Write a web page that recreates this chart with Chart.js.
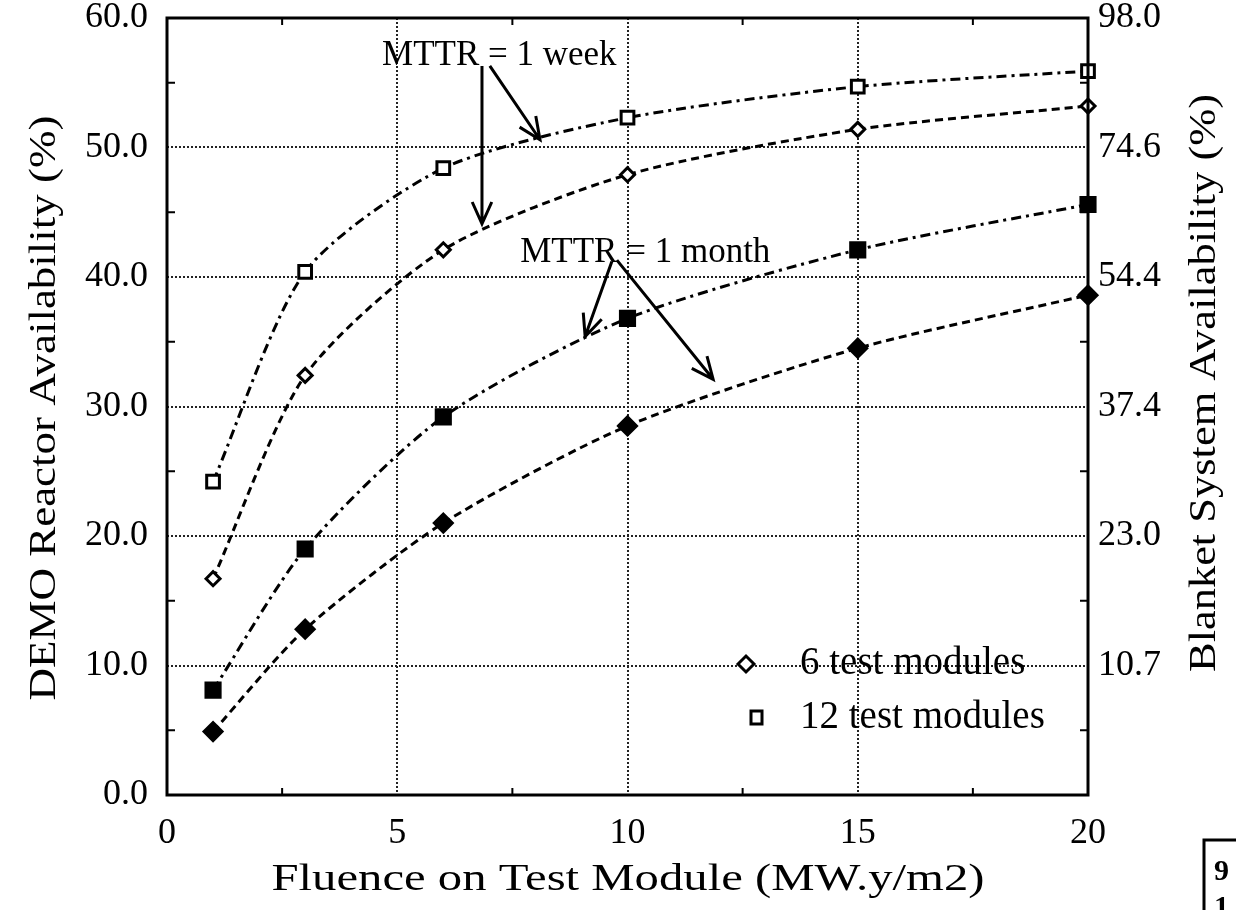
<!DOCTYPE html>
<html>
<head>
<meta charset="utf-8">
<script src="https://cdn.jsdelivr.net/npm/chart.js@4.4.1/dist/chart.umd.min.js"></script>
<style>
  html, body { margin: 0; padding: 0; background: #fff; }
  #wrap { width: 1236px; height: 910px; }
</style>
</head>
<body>
<div id="wrap"><canvas id="chart" width="1236" height="910"></canvas></div>
<script>
// fluence points (MW.y/m2)
const fluence = [1, 3, 6, 10, 15, 20];

// DEMO reactor availability (%)
const week12 = [24.2, 40.4, 48.4, 52.3, 54.7, 55.9];
const week6 = [16.7, 32.4, 42.1, 47.9, 51.4, 53.2];
const month12 = [8.1, 19.0, 29.2, 36.8, 42.1, 45.6];
const month6 = [4.9, 12.8, 21.0, 28.5, 34.5, 38.6];

// right axis labels sit on the left axis gridlines 0..60
const rightTickLabels = ['', '10.7', '23.0', '37.4', '54.4', '74.6', '98.0'];

const xTitle = 'Fluence on Test Module (MW.y/m2)';
const yTitle = 'DEMO Reactor Availability (%)';
const y2Title = 'Blanket System Availability (%)';
const legendLabels = ['6 test modules', '12 test modules'];

// annotations in data units: text anchor + arrows [x1, y1, x2, y2]
const notes = [
    { text: 'MTTR = 1 week', x: 4.67, y: 57.1,
      arrows: [[6.84, 56.3, 6.84, 44.1], [7.01, 56.3, 8.1, 50.6]] },
    { text: 'MTTR = 1 month', x: 7.67, y: 41.9,
      arrows: [[9.66, 41.2, 9.08, 35.4], [9.77, 41.3, 11.86, 32.1]] }
];

const FONT = '"Liberation Serif", "Times New Roman", serif';

function pts(ys) {
    return fluence.map((x, i) => ({ x: x, y: ys[i] }));
}

function series(label, ys, style, filled, dash, radius) {
    return {
        label: label,
        data: pts(ys),
        borderColor: '#000',
        borderWidth: 3,
        borderDash: dash,
        tension: 0.25,
        pointStyle: style,
        pointRadius: radius,
        pointHoverRadius: radius,
        pointBorderWidth: 3,
        pointBorderColor: '#000',
        pointBackgroundColor: filled ? '#000' : '#fff',
        clip: false
    };
}

const DASH = [8, 5];
const DASHDOT = [10, 5, 3, 5];

function arrow(ctx, x1, y1, x2, y2) {
    const a = Math.atan2(y2 - y1, x2 - x1);
    const h = 24, s = 0.42;
    ctx.beginPath();
    ctx.moveTo(x1, y1);
    ctx.lineTo(x2, y2);
    ctx.moveTo(x2 - h * Math.cos(a - s), y2 - h * Math.sin(a - s));
    ctx.lineTo(x2, y2);
    ctx.lineTo(x2 - h * Math.cos(a + s), y2 - h * Math.sin(a + s));
    ctx.stroke();
}

function stretchText(ctx, text, cx, cy, len, rot, size) {
    ctx.save();
    ctx.translate(cx, cy);
    ctx.rotate(rot);
    ctx.font = size + 'px ' + FONT;
    const w = ctx.measureText(text).width;
    ctx.scale(len / w, 1);
    ctx.textAlign = 'center';
    ctx.textBaseline = 'middle';
    ctx.fillStyle = '#000';
    ctx.fillText(text, 0, 0);
    ctx.restore();
}

const decor = {
    id: 'decor',
    afterDatasetsDraw(chart) {
        const ctx = chart.ctx;
        const a = chart.chartArea;
        const xs = chart.scales.x, ys = chart.scales.y;
        ctx.save();
        ctx.strokeStyle = '#000';
        ctx.lineCap = 'butt';

        // frame
        ctx.lineWidth = 3;
        ctx.strokeRect(a.left, a.top, a.right - a.left, a.bottom - a.top);

        // inward minor ticks halfway between major ticks
        ctx.lineWidth = 2;
        const xt = xs.ticks.map(t => t.value);
        for (let i = 0; i < xt.length - 1; i++) {
            const px = xs.getPixelForValue((xt[i] + xt[i + 1]) / 2);
            ctx.beginPath();
            ctx.moveTo(px, a.bottom); ctx.lineTo(px, a.bottom - 7);
            ctx.moveTo(px, a.top); ctx.lineTo(px, a.top + 7);
            ctx.stroke();
        }
        const yt = ys.ticks.map(t => t.value);
        for (let i = 0; i < yt.length - 1; i++) {
            const py = ys.getPixelForValue((yt[i] + yt[i + 1]) / 2);
            ctx.beginPath();
            ctx.moveTo(a.left, py); ctx.lineTo(a.left + 8, py);
            ctx.moveTo(a.right, py); ctx.lineTo(a.right - 8, py);
            ctx.stroke();
        }

        // annotations
        ctx.fillStyle = '#000';
        ctx.font = '35px ' + FONT;
        ctx.textAlign = 'left';
        ctx.textBaseline = 'middle';
        ctx.lineWidth = 3;
        notes.forEach(n => {
            ctx.fillText(n.text, xs.getPixelForValue(n.x), ys.getPixelForValue(n.y));
            n.arrows.forEach(r => arrow(ctx,
                xs.getPixelForValue(r[0]), ys.getPixelForValue(r[1]),
                xs.getPixelForValue(r[2]), ys.getPixelForValue(r[3])));
        });

        // legend (open markers)
        const lx = 746, ly = [664, 718];
        ctx.lineWidth = 3;
        ctx.fillStyle = '#fff';
        ctx.beginPath();
        ctx.moveTo(lx - 8, ly[0]); ctx.lineTo(lx, ly[0] - 8);
        ctx.lineTo(lx + 8, ly[0]); ctx.lineTo(lx, ly[0] + 8);
        ctx.closePath();
        ctx.fill(); ctx.stroke();
        ctx.beginPath();
        ctx.rect(lx + 5, ly[1] - 7, 11, 13);
        ctx.fill(); ctx.stroke();
        ctx.fillStyle = '#000';
        ctx.font = '39px ' + FONT;
        legendLabels.forEach((t, i) => ctx.fillText(t, 800, ly[i]));

        // axis titles
        stretchText(ctx, yTitle, 45, 408, 585, -Math.PI / 2, 37);
        stretchText(ctx, y2Title, 1205, 383, 578, -Math.PI / 2, 37);
        stretchText(ctx, xTitle, 628, 880, 713, 0, 37);

        // cut-off label box at bottom right
        ctx.lineWidth = 3;
        ctx.beginPath();
        ctx.moveTo(1204, 910); ctx.lineTo(1204, 840); ctx.lineTo(1236, 840);
        ctx.stroke();
        ctx.font = 'bold 30px ' + FONT;
        ctx.fillText('9', 1214, 872);
        ctx.fillText('1', 1214, 908);
        ctx.restore();
    }
};

const tickFont = { family: FONT, size: 36 };
const gridColor = '#222';

// keep the frame where the reference has it: no extra room for edge labels
function noEdgePad(s) {
    s.paddingTop = 0;
    s.paddingBottom = 0;
}

new Chart(document.getElementById('chart'), {
    type: 'line',
    data: {
        datasets: [
            series('12 test modules, 1 week', week12, 'rect', false, DASHDOT, 9),
            series('6 test modules, 1 week', week6, 'rectRot', false, DASH, 7),
            series('12 test modules, 1 month', month12, 'rect', true, DASHDOT, 10),
            series('6 test modules, 1 month', month6, 'rectRot', true, DASH, 9)
        ]
    },
    options: {
        responsive: false,
        animation: false,
        layout: { padding: { top: 18, left: 0, right: 0, bottom: 0 } },
        plugins: { legend: { display: false }, tooltip: { enabled: false } },
        scales: {
            x: {
                type: 'linear',
                min: 0, max: 20,
                ticks: { stepSize: 5, color: '#000', font: tickFont, padding: 17, maxRotation: 0 },
                grid: { color: gridColor, lineWidth: 2, drawTicks: false },
                border: { display: false, dash: [2, 2] },
                afterFit: s => { s.height = 115; s.paddingLeft = 0; s.paddingRight = 0; }
            },
            y: {
                position: 'left',
                min: 0, max: 60,
                ticks: { stepSize: 10, color: '#000', font: tickFont, padding: 19,
                    callback: v => v.toFixed(1) },
                grid: { color: gridColor, lineWidth: 2, drawTicks: false },
                border: { display: false, dash: [2, 2] },
                afterFit: s => { s.width = 167; noEdgePad(s); }
            },
            y2: {
                position: 'right',
                min: 0, max: 60,
                ticks: { stepSize: 10, color: '#000', font: tickFont, padding: 10,
                    callback: (v, i) => rightTickLabels[i] },
                grid: { drawOnChartArea: false, drawTicks: false },
                border: { display: false },
                afterFit: s => { s.width = 148; noEdgePad(s); }
            }
        }
    },
    plugins: [decor]
});
</script>
</body>
</html>
